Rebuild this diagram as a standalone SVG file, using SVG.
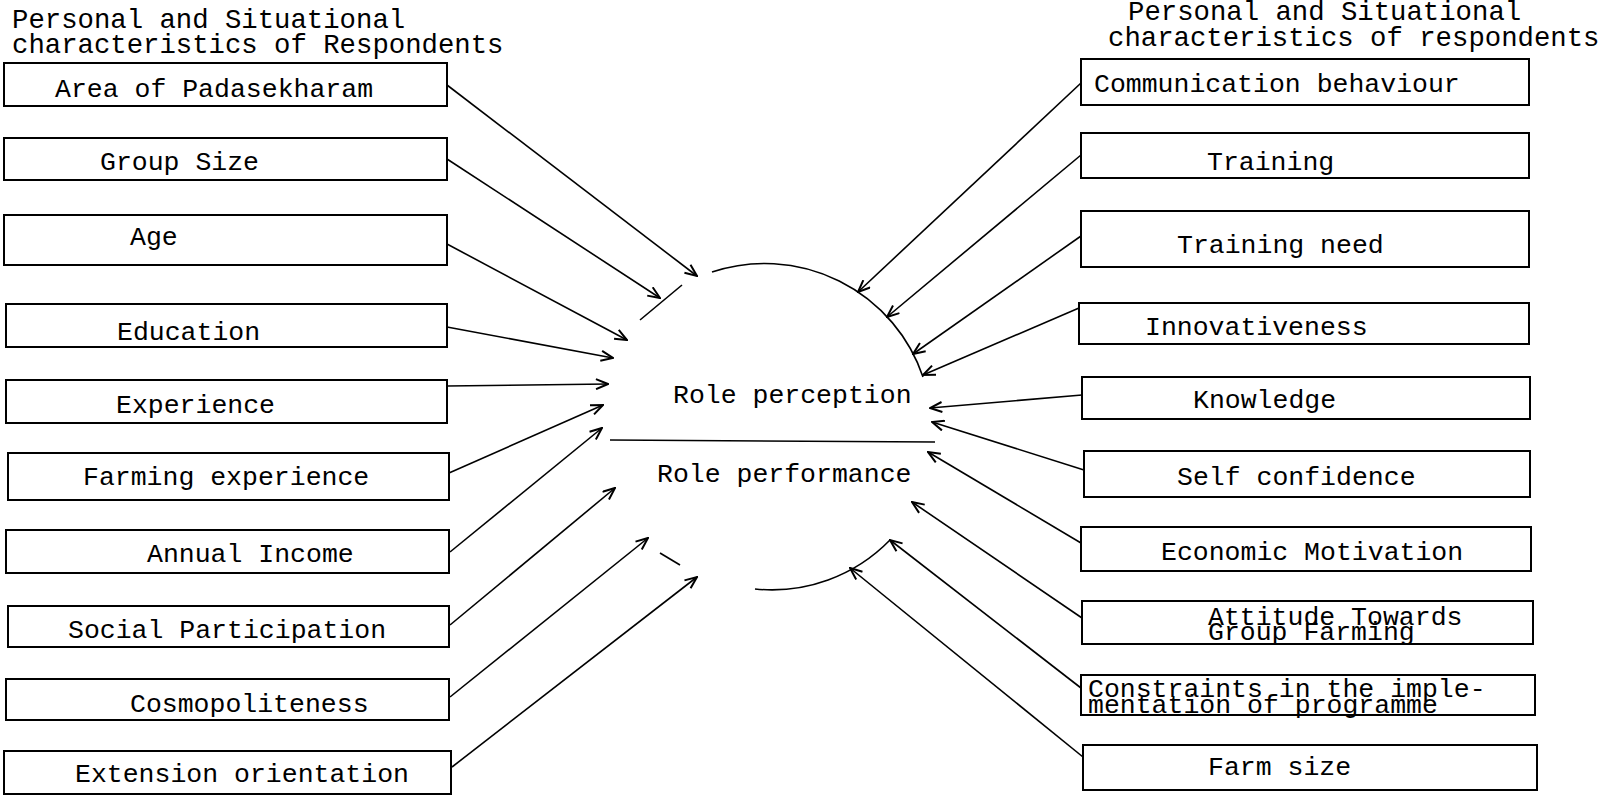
<svg xmlns="http://www.w3.org/2000/svg" width="1612" height="796" viewBox="0 0 1612 796">
<style>
.box{fill:#fff;stroke:#000;stroke-width:2}
.t{font-family:"Liberation Mono","Courier New",monospace;font-size:26.5px;fill:#000}
.h{font-family:"Liberation Mono","Courier New",monospace;font-size:27.3px;fill:#000}
.t2{font-family:"Liberation Mono","Courier New",monospace;font-size:26.5px;fill:#000}
.c{stroke:#000;stroke-width:1.6;fill:none}
</style>
<defs>
<marker id="ah" viewBox="0 0 14 12" refX="13" refY="6" markerWidth="14" markerHeight="12" markerUnits="userSpaceOnUse" orient="auto">
<path d="M1,1 L13,6 L1,11" fill="none" stroke="#000" stroke-width="2"/>
</marker>
</defs>
<rect width="1612" height="796" fill="#fff"/>
<g id="header-left">
<text class="h" x="12" y="28">Personal and Situational</text>
<text class="h" x="12" y="53">characteristics of Respondents</text>
</g>
<g id="header-right">
<text class="h" x="1128" y="20">Personal and Situational</text>
<text class="h" x="1108" y="46">characteristics of respondents</text>
</g>
<g id="left-1"><rect class="box" x="4" y="63" width="443" height="43"/><text class="t" x="55" y="97">Area of Padasekharam</text></g>
<g id="left-2"><rect class="box" x="4" y="138" width="443" height="42"/><text class="t" x="100" y="170">Group Size</text></g>
<g id="left-3"><rect class="box" x="4" y="215" width="443" height="50"/><text class="t" x="130" y="245">Age</text></g>
<g id="left-4"><rect class="box" x="6" y="304" width="441" height="43"/><text class="t" x="117" y="340">Education</text></g>
<g id="left-5"><rect class="box" x="6" y="380" width="441" height="43"/><text class="t" x="116" y="413">Experience</text></g>
<g id="left-6"><rect class="box" x="8" y="453" width="441" height="47"/><text class="t" x="83" y="485">Farming experience</text></g>
<g id="left-7"><rect class="box" x="6" y="530" width="443" height="43"/><text class="t" x="147" y="562">Annual Income</text></g>
<g id="left-8"><rect class="box" x="8" y="606" width="441" height="41"/><text class="t" x="68" y="638">Social Participation</text></g>
<g id="left-9"><rect class="box" x="6" y="679" width="443" height="41"/><text class="t" x="130" y="712">Cosmopoliteness</text></g>
<g id="left-10"><rect class="box" x="4" y="751" width="447" height="43"/><text class="t" x="75" y="782">Extension orientation</text></g>

<g id="right-1"><rect class="box" x="1081" y="59" width="448" height="46"/><text class="t" x="1094" y="92">Communication behaviour</text></g>
<g id="right-2"><rect class="box" x="1081" y="133" width="448" height="45"/><text class="t" x="1207" y="170">Training</text></g>
<g id="right-3"><rect class="box" x="1081" y="211" width="448" height="56"/><text class="t" x="1177" y="253">Training need</text></g>
<g id="right-4"><rect class="box" x="1079" y="303" width="450" height="41"/><text class="t" x="1145" y="335">Innovativeness</text></g>
<g id="right-5"><rect class="box" x="1082" y="377" width="448" height="42"/><text class="t" x="1193" y="408">Knowledge</text></g>
<g id="right-6"><rect class="box" x="1084" y="451" width="446" height="46"/><text class="t" x="1177" y="485">Self confidence</text></g>
<g id="right-7"><rect class="box" x="1081" y="527" width="450" height="44"/><text class="t" x="1161" y="560">Economic Motivation</text></g>
<g id="right-8"><rect class="box" x="1082" y="601" width="451" height="43"/><text class="t2" x="1208" y="625">Attitude Towards</text><text class="t2" x="1208" y="640">Group Farming</text></g>
<g id="right-9"><rect class="box" x="1081" y="675" width="454" height="40"/><text class="t2" x="1088" y="697">Constraints in the imple-</text><text class="t2" x="1088" y="713">mentation of programme</text></g>
<g id="right-10"><rect class="box" x="1083" y="745" width="454" height="45"/><text class="t" x="1208" y="775">Farm size</text></g>

<g id="center">
<path class="c" d="M712,272 A167,167 0 0 1 923,377"/>
<path class="c" d="M755,589 A165,165 0 0 0 890,540"/>
<line class="c" x1="640" y1="320" x2="682" y2="285"/>
<line class="c" x1="660" y1="553" x2="680" y2="565"/>
<line class="c" x1="610" y1="440" x2="935" y2="442" stroke-width="2"/>
<text class="t" x="673" y="403">Role perception</text>
<text class="t" x="657" y="482">Role performance</text>
</g>

<g id="connectors" class="c">
<line x1="447" y1="85" x2="697" y2="276" marker-end="url(#ah)"/>
<line x1="447" y1="159" x2="660" y2="298" marker-end="url(#ah)"/>
<line x1="447" y1="244" x2="627" y2="340" marker-end="url(#ah)"/>
<line x1="447" y1="327" x2="613" y2="358" marker-end="url(#ah)"/>
<line x1="447" y1="386" x2="608" y2="384" marker-end="url(#ah)"/>
<line x1="449" y1="473" x2="603" y2="405" marker-end="url(#ah)"/>
<line x1="450" y1="552" x2="602" y2="428" marker-end="url(#ah)"/>
<line x1="450" y1="625" x2="615" y2="488" marker-end="url(#ah)"/>
<line x1="450" y1="697" x2="648" y2="538" marker-end="url(#ah)"/>
<line x1="452" y1="767" x2="697" y2="577" marker-end="url(#ah)"/>

<line x1="1081" y1="83" x2="858" y2="292" marker-end="url(#ah)"/>
<line x1="1081" y1="155" x2="887" y2="317" marker-end="url(#ah)"/>
<line x1="1081" y1="236" x2="913" y2="354" marker-end="url(#ah)"/>
<line x1="1079" y1="308" x2="923" y2="375" marker-end="url(#ah)"/>
<line x1="1082" y1="395" x2="930" y2="408" marker-end="url(#ah)"/>
<line x1="1084" y1="470" x2="932" y2="422" marker-end="url(#ah)"/>
<line x1="1081" y1="543" x2="928" y2="452" marker-end="url(#ah)"/>
<line x1="1082" y1="618" x2="912" y2="502" marker-end="url(#ah)"/>
<line x1="1081" y1="688" x2="890" y2="540" marker-end="url(#ah)"/>
<line x1="1083" y1="757" x2="850" y2="568" marker-end="url(#ah)"/>
</g>
</svg>
